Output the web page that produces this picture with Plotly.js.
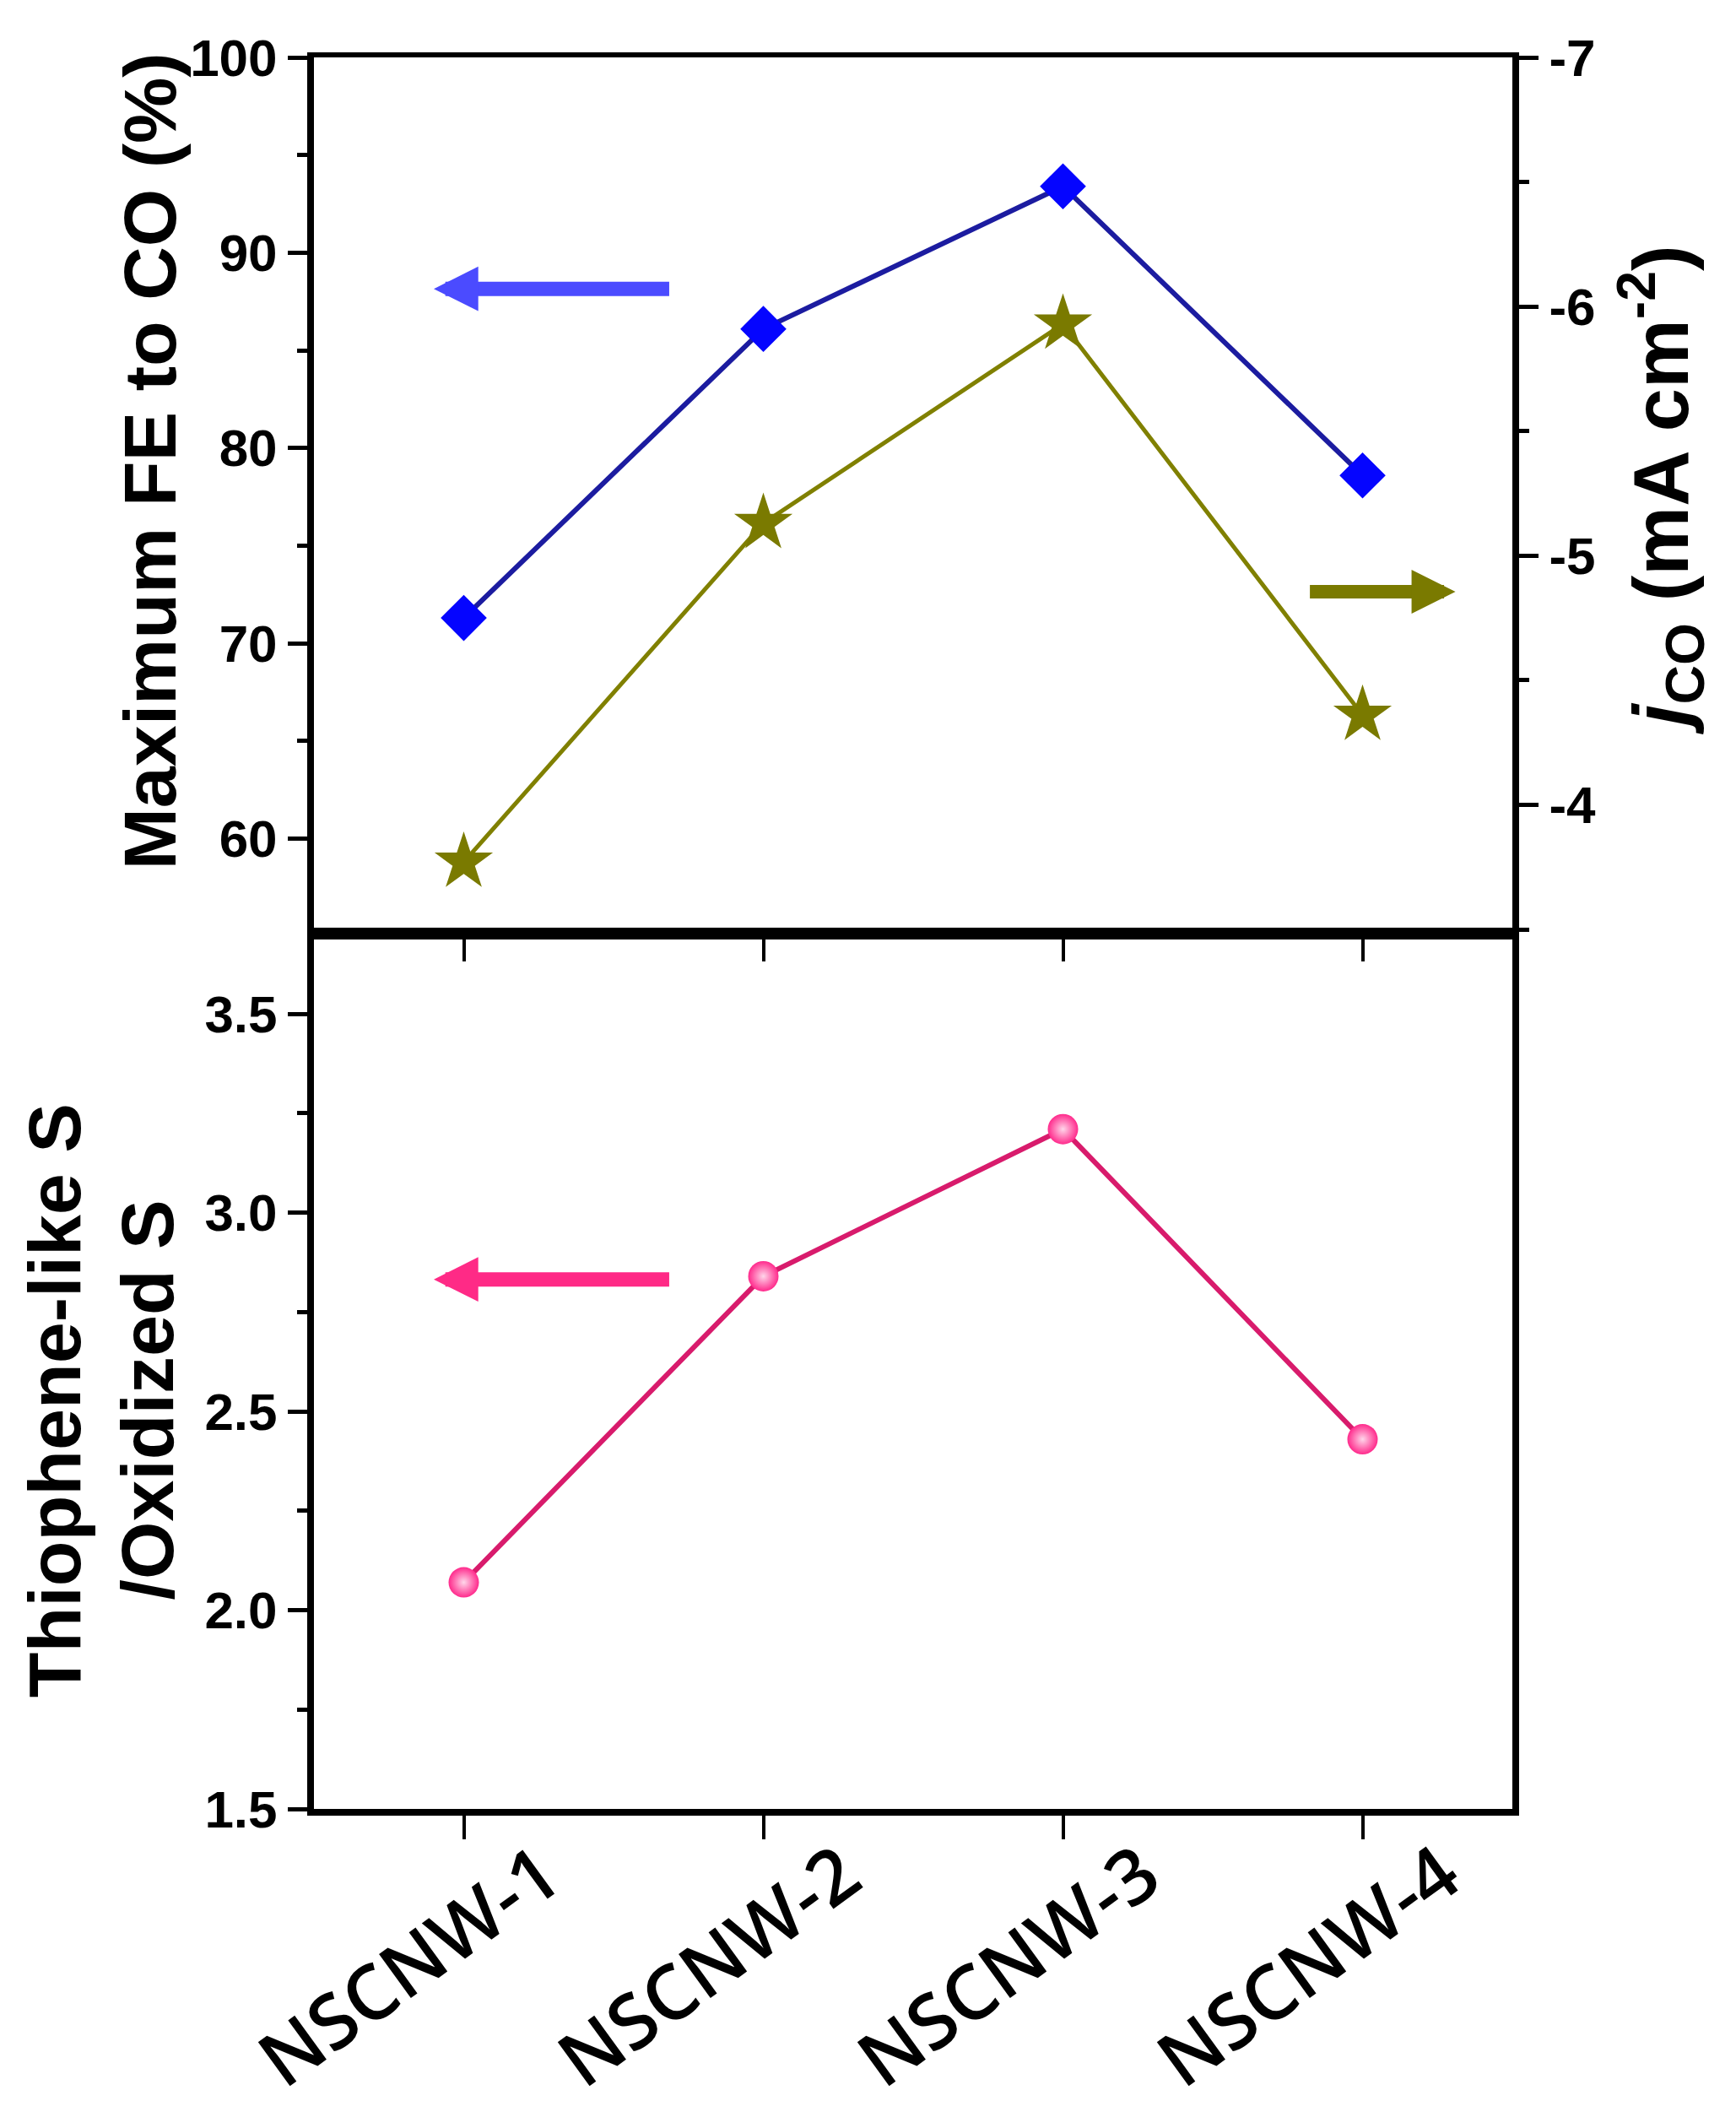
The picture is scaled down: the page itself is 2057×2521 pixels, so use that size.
<!DOCTYPE html>
<html>
<head>
<meta charset="utf-8">
<script src="https://cdn.plot.ly/plotly-3.0.1.min.js"></script>
<style>
  html, body { margin: 0; padding: 0; background: #fff; }
  #plot { width: 2057px; height: 2521px; }
</style>
</head>
<body>
<div id="plot"></div>
<script>
// samples on the shared x axis
var samples = ['NSCNW-1', 'NSCNW-2', 'NSCNW-3', 'NSCNW-4'];

// top panel, left axis: maximum FE to CO (%)
var maxFE = [71.3, 86.1, 93.4, 78.6];
// top panel, right axis: jCO (mA cm-2)
var jCO = [-3.77, -5.13, -5.93, -4.36];
// bottom panel: thiophene-like S / oxidized S
var sRatio = [2.07, 2.84, 3.21, 2.43];

var feTicks = [60, 70, 80, 90, 100];
var jTicks = [-7, -6, -5, -4];
var ratioTicks = [1.5, 2.0, 2.5, 3.0, 3.5];

var tickFont = {family: 'Liberation Sans, Arial, sans-serif', size: 62, color: '#000', weight: 'bold'};
var titleFont = {family: 'Liberation Sans, Arial, sans-serif', size: 88, color: '#000', weight: 'bold'};

var traces = [
  {
    x: samples, y: maxFE, xaxis: 'x2', yaxis: 'y2',
    type: 'scatter', mode: 'lines+markers',
    line: {color: '#1c1ca0', width: 6},
    marker: {symbol: 'diamond', size: 42, color: '#0505ff'}
  },
  {
    x: samples, y: jCO, xaxis: 'x2', yaxis: 'y3',
    type: 'scatter', mode: 'lines+markers',
    line: {color: '#808000', width: 5},
    marker: {symbol: 'star', size: 52, color: '#7a7a00'}
  },
  {
    x: samples, y: sRatio, xaxis: 'x', yaxis: 'y',
    type: 'scatter', mode: 'lines+markers',
    line: {color: '#d81b6c', width: 6},
    marker: {symbol: 'circle', size: 36, color: '#ff2a8c',
             gradient: {type: 'radial', color: '#ffd6ea'}}
  }
];

var yCommon = {
  showline: true, linecolor: '#000', linewidth: 8,
  ticks: 'outside', ticklen: 23, tickwidth: 5, tickcolor: '#000',
  showgrid: false, zeroline: false, tickfont: tickFont, fixedrange: true
};

var layout = {
  width: 2057, height: 2521,
  margin: {l: 372, r: 265, t: 68, b: 378},
  paper_bgcolor: '#fff', plot_bgcolor: '#fff',
  showlegend: false,
  xaxis: {
    type: 'category', range: [-0.5, 3.5], anchor: 'y',
    showline: true, linecolor: '#000', linewidth: 8, mirror: true,
    ticks: 'outside', ticklen: 28, tickwidth: 4, tickcolor: '#000',
    showgrid: false, tickangle: -36, ticklabelshift: 95, ticklabelstandoff: -45,
    tickfont: {family: 'Open Sans, sans-serif', size: 90, color: '#000', weight: 600}
  },
  xaxis2: {
    type: 'category', range: [-0.5, 3.5], anchor: 'y2', matches: 'x',
    showline: true, linecolor: '#000', linewidth: 6, mirror: true,
    ticks: 'outside', ticklen: 26, tickwidth: 4, tickcolor: '#000',
    showgrid: false, showticklabels: false
  },
  yaxis: Object.assign({}, yCommon, {
    domain: [0, 0.4993], anchor: 'x', mirror: true,
    range: [1.5, 3.7], tickvals: ratioTicks, tickformat: '.1f',
    minor: {ticks: 'outside', ticklen: 12, tickwidth: 5, tickcolor: '#000', dtick: 0.25, tick0: 1.5, showgrid: false}
  }),
  yaxis2: Object.assign({}, yCommon, {
    domain: [0.4993, 1], anchor: 'x2',
    range: [55.1, 100], tickvals: feTicks,
    minor: {ticks: 'outside', ticklen: 12, tickwidth: 5, tickcolor: '#000', dtick: 5, tick0: 0, showgrid: false}
  }),
  yaxis3: Object.assign({}, yCommon, {
    overlaying: 'y2', side: 'right', anchor: 'x2',
    range: [-3.48, -7.0], tickvals: jTicks, ticktext: jTicks.map(String),
    minor: {ticks: 'outside', ticklen: 12, tickwidth: 5, tickcolor: '#000', dtick: 0.5, tick0: 0, showgrid: false}
  }),
  annotations: [
    {xref: 'paper', yref: 'paper', x: -0.137, y: 0.7696, xanchor: 'center', yanchor: 'middle',
     textangle: -90, showarrow: false, text: 'Maximum FE to CO (%)', font: titleFont},
    {xref: 'paper', yref: 'paper', x: 1.124, y: 0.7533, xanchor: 'center', yanchor: 'middle',
     textangle: -90, showarrow: false,
     text: '<i>j</i><sub>CO</sub> (mA cm<sup>-2</sup>)',
     font: Object.assign({}, titleFont, {size: 92})},
    {xref: 'paper', yref: 'paper', x: -0.216, y: 0.2333, xanchor: 'center', yanchor: 'middle',
     textangle: -90, showarrow: false, text: 'Thiophene-like S', font: titleFont},
    {xref: 'paper', yref: 'paper', x: -0.139, y: 0.2333, xanchor: 'center', yanchor: 'middle',
     textangle: -90, showarrow: false, text: '/Oxidized S', font: titleFont},
    // direction arrows
    {xref: 'x2', yref: 'y2', axref: 'x2', ayref: 'y2', x: -0.1, y: 88.15, ax: 0.69, ay: 88.15,
     text: '', showarrow: true, arrowhead: 2, arrowwidth: 17, arrowsize: 0.62, arrowcolor: '#4b4bff'},
    {xref: 'x2', yref: 'y3', axref: 'x2', ayref: 'y3', x: 3.31, y: -4.855, ax: 2.82, ay: -4.855,
     text: '', showarrow: true, arrowhead: 2, arrowwidth: 16, arrowsize: 0.65, arrowcolor: '#7a7a00'},
    {xref: 'x', yref: 'y', axref: 'x', ayref: 'y', x: -0.1, y: 2.832, ax: 0.69, ay: 2.832,
     text: '', showarrow: true, arrowhead: 2, arrowwidth: 17, arrowsize: 0.62, arrowcolor: '#ff2a86'}
  ]
};

Plotly.newPlot('plot', traces, layout, {staticPlot: true, displayModeBar: false});
</script>
</body>
</html>
